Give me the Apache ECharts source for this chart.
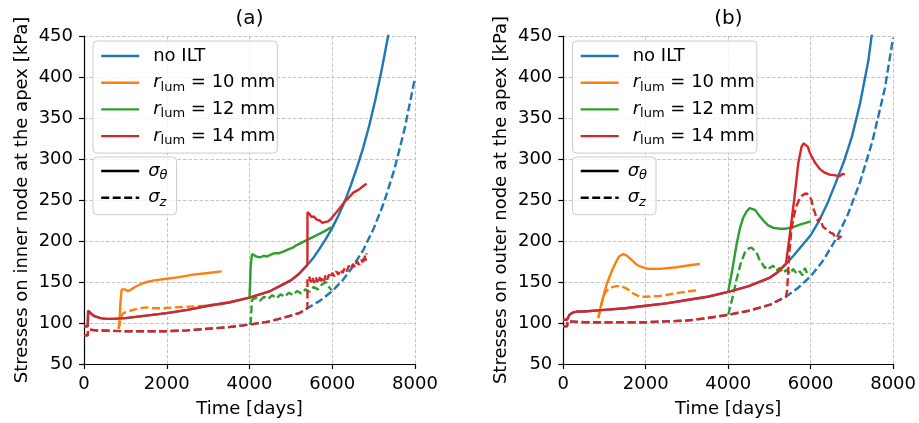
<!DOCTYPE html>
<html>
<head>
<meta charset="utf-8">
<script src="https://cdn.jsdelivr.net/npm/echarts@6/dist/echarts.min.js"></script>
<style>
  html, body { margin: 0; padding: 0; background: #fff; }
  #chart { width: 919px; height: 423px; }
</style>
</head>
<body>
<div id="chart"></div>
<script>
// ---------------- DATA (time in days, stress in kPa) ----------------
const X_TICKS = [0, 2000, 4000, 6000, 8000];
const Y_TICKS = [50, 100, 150, 200, 250, 300, 350, 400, 450];
const PANEL_TITLES = ['(a)', '(b)'];
const Y_NAMES = ['Stresses on inner node at the apex [kPa]', 'Stresses on outer node at the apex [kPa]'];
const X_NAME = 'Time [days]';

// Panel (a): inner node
const A_BASE_THETA_T = [0, 90, 100, 130, 180, 266, 400, 532, 700, 1000, 1500, 2000, 2500, 3000, 3500, 4000, 4500, 5000, 5200, 5400];
const A_BASE_THETA_V = [96, 96, 115, 114, 111, 108, 106, 105, 105, 106, 109, 112, 116, 121, 125, 131, 139, 152, 160, 171];
const A_NOILT_THETA_T = [5550, 5700, 5850, 6000, 6150, 6300, 6450, 6600, 6750, 6900, 7050, 7200, 7350, 7400];
const A_NOILT_THETA_V = [180, 191, 203, 216, 231, 248, 268, 290, 314, 342, 374, 410, 450, 464];
const A_BASE_Z_T = [0, 90, 100, 300, 1000, 2000, 2500, 3000, 3500, 4000, 4500, 5000, 5200, 5400];
const A_BASE_Z_V = [85, 85, 92, 91, 90, 90, 91, 93, 95, 98, 102, 109, 112, 118];
const A_NOILT_Z_T = [5700, 6000, 6250, 6500, 6750, 7000, 7250, 7500, 7750, 8000];
const A_NOILT_Z_V = [127, 139, 152, 169, 189, 215, 247, 287, 337, 399];
const A_R10_THETA_T = [830, 853, 880, 911, 950, 990, 1050, 1112, 1200, 1314, 1400, 1515, 1700, 1999, 2300, 2642, 3000, 3327];
const A_R10_THETA_V = [93, 96, 125, 141, 142, 141, 139, 140, 143, 146, 148, 150, 152, 154, 156, 159, 161, 163];
const A_R10_Z_T = [830, 853, 900, 950, 1050, 1192, 1350, 1515, 1700, 1918, 2200, 2562, 2900, 3287, 3327];
const A_R10_Z_V = [93, 95, 108, 112, 114, 116, 118, 119, 118, 118, 119, 120, 121, 123, 122];
const A_R12_THETA_T = [4000, 4029, 4060, 4100, 4174, 4250, 4350, 4420, 4496, 4600, 4700, 4818, 4950, 5050, 5141, 5300, 5420, 5543, 5700, 5850, 5987];
const A_R12_THETA_V = [131, 170, 184, 184, 181, 180, 182, 181, 183, 185, 185, 187, 190, 192, 195, 199, 202, 205, 209, 213, 217];
const A_R12_Z_T = [4000, 4029, 4060, 4150, 4250, 4350, 4450, 4550, 4650, 4750, 4850, 4950, 5050, 5150, 5250, 5350, 5450, 5550, 5650, 5750, 5850, 5920, 5990];
const A_R12_Z_V = [98, 101, 128, 131, 127, 132, 129, 134, 130, 135, 132, 137, 134, 139, 136, 141, 138, 144, 141, 147, 150, 144, 140];
const A_R14_THETA_T = [5401, 5450, 5500, 5550, 5625, 5700, 5760, 5825, 5900, 5970, 6050, 6150, 6300, 6400, 6510, 6650, 6750, 6830];
const A_R14_THETA_V = [235, 233, 229, 230, 226, 225, 222, 223, 224, 227, 232, 238, 248, 253, 259, 263, 267, 270];
const A_R14_Z_T = [5401, 5440, 5480, 5520, 5560, 5600, 5640, 5680, 5720, 5760, 5800, 5840, 5880, 5920, 5960, 6000, 6050, 6100, 6150, 6200, 6250, 6300, 6350, 6400, 6450, 6500, 6550, 6600, 6650, 6700, 6740, 6780, 6800, 6830];
const A_R14_Z_V = [152, 157, 150, 156, 149, 156, 150, 157, 151, 156, 151, 158, 153, 159, 155, 161, 157, 163, 159, 165, 161, 167, 163, 170, 166, 172, 168, 175, 171, 177, 174, 183, 176, 185];

// Panel (b): outer node
const B_BASE_THETA_T = [0, 90, 100, 150, 242, 350, 500, 1000, 1500, 2000, 2500, 3000, 3500, 4000, 4500, 5000, 5200, 5400];
const B_BASE_THETA_V = [104, 104, 106, 110, 113, 114, 114, 116, 118, 121, 124, 128, 132, 138, 145, 155, 162, 172];
const B_NOILT_THETA_T = [5600, 5800, 6000, 6200, 6400, 6600, 6800, 7000, 7200, 7400, 7500];
const B_NOILT_THETA_V = [183, 195, 207, 224, 245, 270, 296, 327, 368, 420, 458];
const B_BASE_Z_T = [0, 95, 100, 500, 1000, 2000, 2500, 3000, 3500, 4000, 4500, 5000, 5200, 5400];
const B_BASE_Z_V = [96, 96, 102, 101, 101, 101, 102, 103, 106, 110, 115, 122, 127, 132];
const B_NOILT_Z_T = [5700, 6000, 6300, 6600, 6900, 7200, 7500, 7800, 8000];
const B_NOILT_Z_V = [143, 157, 176, 201, 232, 272, 322, 386, 448];
const B_R10_THETA_T = [848, 900, 1000, 1051, 1150, 1253, 1350, 1455, 1550, 1657, 1760, 1859, 2061, 2343, 2747, 3152, 3313];
const B_R10_THETA_V = [106, 118, 138, 147, 160, 172, 181, 184, 182, 177, 172, 169, 166, 166, 168, 171, 172];
const B_R10_Z_T = [848, 900, 960, 1010, 1131, 1293, 1400, 1535, 1697, 1859, 2000, 2343, 2600, 2828, 3100, 3300];
const B_R10_Z_V = [106, 118, 130, 137, 143, 145, 145, 142, 136, 132, 132, 133, 135, 137, 139, 140];
const B_R12_THETA_T = [4000, 4100, 4200, 4283, 4360, 4444, 4520, 4566, 4650, 4768, 4870, 4970, 5100, 5253, 5400, 5576, 5737, 5880, 6000];
const B_R12_THETA_V = [138, 165, 195, 215, 228, 236, 240, 241, 238, 230, 224, 219, 216, 215, 215, 217, 220, 222, 224];
const B_R12_Z_T = [4000, 4100, 4202, 4300, 4404, 4500, 4566, 4630, 4687, 4768, 4830, 4889, 4950, 5010, 5090, 5172, 5250, 5333, 5420, 5500, 5576, 5660, 5737, 5800, 5859, 5920, 5980];
const B_R12_Z_V = [110, 130, 153, 172, 186, 191, 192, 189, 186, 176, 172, 167, 170, 167, 170, 164, 167, 161, 165, 160, 166, 160, 163, 158, 167, 160, 162];
const B_R14_THETA_T = [5500, 5600, 5700, 5780, 5830, 5870, 5930, 5976, 6100, 6218, 6350, 6461, 6600, 6700, 6788, 6830];
const B_R14_THETA_V = [210, 250, 295, 315, 319, 320, 315, 308, 296, 288, 283, 281, 280, 279, 282, 281];
const B_R14_Z_T = [5430, 5480, 5537, 5600, 5658, 5720, 5779, 5840, 5900, 5960, 6020, 6060, 6101, 6140, 6182, 6220, 6250, 6303, 6350, 6424, 6480, 6545, 6590, 6626, 6670, 6707, 6750];
const B_R14_Z_V = [140, 185, 215, 232, 243, 250, 255, 257, 258, 256, 250, 240, 235, 228, 224, 228, 224, 217, 216, 213, 210, 209, 205, 205, 202, 206, 204];

const CASE_NAMES = ['no ILT', 'r10', 'r12', 'r14'];
const STRESS_NAMES = ['theta', 'z'];
// ---------------------------------------------------------------------

const FONT = 'DejaVu Sans';
const COLORS = { 'no ILT': '#1f77b4', r10: '#ff7f0e', r12: '#2ca02c', r14: '#d62728', theta: '#000000', z: '#000000' };
const DASH = [8, 3.5];
const LW = 2.4;

function zip(t, v) { return t.map((x, i) => [x, v[i]]); }

function line(name, idx, data, dashed, z) {
  return {
    type: 'line', name: name, xAxisIndex: idx, yAxisIndex: idx,
    data: data, symbol: 'none', smooth: false, clip: true, z: z,
    lineStyle: { color: COLORS[name], width: LW, type: dashed ? DASH : 'solid' },
    itemStyle: { color: COLORS[name] },
    emphasis: { disabled: true }, animation: false
  };
}

function panelSeries(idx, P) {
  const s = [];
  s.push(line('no ILT', idx, zip(P.baseThT.concat(P.noThT), P.baseThV.concat(P.noThV)), false, 2));
  s.push(line('no ILT', idx, zip(P.baseZT.concat(P.noZT), P.baseZV.concat(P.noZV)), true, 2));
  s.push(line('r10', idx, zip(P.r10ThT, P.r10ThV), false, 3));
  s.push(line('r10', idx, zip(P.r10ZT, P.r10ZV), true, 3));
  s.push(line('r12', idx, zip(P.r12ThT, P.r12ThV), false, 4));
  s.push(line('r12', idx, zip(P.r12ZT, P.r12ZV), true, 4));
  s.push(line('r14', idx, zip(P.baseThT.concat(P.r14ThT), P.baseThV.concat(P.r14ThV)), false, 5));
  s.push(line('r14', idx, zip(P.baseZT.concat(P.r14ZT), P.baseZV.concat(P.r14ZV)), true, 5));
  return s;
}

const PA = {
  baseThT: A_BASE_THETA_T, baseThV: A_BASE_THETA_V, noThT: A_NOILT_THETA_T, noThV: A_NOILT_THETA_V,
  baseZT: A_BASE_Z_T, baseZV: A_BASE_Z_V, noZT: A_NOILT_Z_T, noZV: A_NOILT_Z_V,
  r10ThT: A_R10_THETA_T, r10ThV: A_R10_THETA_V, r10ZT: A_R10_Z_T, r10ZV: A_R10_Z_V,
  r12ThT: A_R12_THETA_T, r12ThV: A_R12_THETA_V, r12ZT: A_R12_Z_T, r12ZV: A_R12_Z_V,
  r14ThT: A_R14_THETA_T, r14ThV: A_R14_THETA_V, r14ZT: A_R14_Z_T, r14ZV: A_R14_Z_V
};
const PB = {
  baseThT: B_BASE_THETA_T, baseThV: B_BASE_THETA_V, noThT: B_NOILT_THETA_T, noThV: B_NOILT_THETA_V,
  baseZT: B_BASE_Z_T, baseZV: B_BASE_Z_V, noZT: B_NOILT_Z_T, noZV: B_NOILT_Z_V,
  r10ThT: B_R10_THETA_T, r10ThV: B_R10_THETA_V, r10ZT: B_R10_Z_T, r10ZV: B_R10_Z_V,
  r12ThT: B_R12_THETA_T, r12ThV: B_R12_THETA_V, r12ZT: B_R12_Z_T, r12ZV: B_R12_Z_V,
  r14ThT: B_R14_THETA_T, r14ThV: B_R14_THETA_V, r14ZT: B_R14_Z_T, r14ZV: B_R14_Z_V
};

let series = [];
// legend-only black style series first so legend icons use them
series.push(line('theta', 0, [], false, 1));
series.push(line('z', 0, [], true, 1));
series = series.concat(panelSeries(0, PA), panelSeries(1, PB));

const LABELS = {
  'no ILT': '{t|no ILT}',
  r10: '{i|r}{s|lum}{t| = 10 mm}',
  r12: '{i|r}{s|lum}{t| = 12 mm}',
  r14: '{i|r}{s|lum}{t| = 14 mm}',
  theta: '{i|σ}{si|θ}',
  z: '{i|σ}{si|z}'
};
const RICH = {
  t: { fontFamily: FONT, fontSize: 18, lineHeight: 22, color: '#000' },
  i: { fontFamily: FONT, fontSize: 18, fontStyle: 'italic', lineHeight: 22, color: '#000' },
  s: { fontFamily: FONT, fontSize: 13, lineHeight: 22, verticalAlign: 'bottom', color: '#000' },
  si: { fontFamily: FONT, fontSize: 13, fontStyle: 'italic', lineHeight: 22, verticalAlign: 'bottom', color: '#000' }
};

function legend(left, top, data, textPadLeft, pad) {
  return {
    show: true, orient: 'vertical', left: left, top: top,
    data: data, selectedMode: false,
    itemWidth: 38, itemHeight: 14, itemGap: 4.7,
    padding: pad,
    borderColor: '#cccccc', borderWidth: 1, borderRadius: 4,
    backgroundColor: 'rgba(255,255,255,0.8)',
    itemStyle: { color: 'rgba(0,0,0,0)', borderWidth: 0, opacity: 0 },
    lineStyle: { width: LW },
    formatter: (n) => LABELS[n],
    textStyle: { fontFamily: FONT, fontSize: 18, lineHeight: 22, color: '#000', padding: [0, 0, 0, textPadLeft], rich: RICH }
  };
}

const GRID_LEFTS = [84, 563.3];
const GRID_W = [331, 330];

function xAxis(idx) {
  return {
    type: 'value', gridIndex: idx, min: X_TICKS[0], max: X_TICKS[X_TICKS.length - 1],
    interval: X_TICKS[1] - X_TICKS[0],
    name: X_NAME, nameLocation: 'middle', nameGap: 36,
    nameTextStyle: { fontFamily: FONT, fontSize: 18, color: '#000' },
    axisLine: { show: true, onZero: false, lineStyle: { color: '#000', width: 1.2 } },
    axisTick: { show: true, inside: false, length: 5, lineStyle: { color: '#000', width: 1.2 } },
    axisLabel: { fontFamily: FONT, fontSize: 18, color: '#000', margin: 11, formatter: (v) => String(v) },
    splitLine: { show: true, lineStyle: { color: '#c4c4c4', width: 1, type: [3.5, 2] } }
  };
}
function yAxis(idx) {
  return {
    type: 'value', gridIndex: idx, min: Y_TICKS[0], max: Y_TICKS[Y_TICKS.length - 1],
    interval: Y_TICKS[1] - Y_TICKS[0],
    name: Y_NAMES[idx], nameLocation: 'middle', nameGap: 53,
    nameTextStyle: { fontFamily: FONT, fontSize: 18, color: '#000' },
    axisLine: { show: true, onZero: false, lineStyle: { color: '#000', width: 1.2 } },
    axisTick: { show: true, inside: false, length: 5, lineStyle: { color: '#000', width: 1.2 } },
    axisLabel: { fontFamily: FONT, fontSize: 18, color: '#000', margin: 11, formatter: (v) => String(v) },
    splitLine: { show: true, lineStyle: { color: '#c4c4c4', width: 1, type: [3.5, 2] } }
  };
}

const option = {
  backgroundColor: '#fff',
  animation: false,
  grid: [
    { left: GRID_LEFTS[0], top: 36, width: GRID_W[0], height: 330, containLabel: false },
    { left: GRID_LEFTS[1], top: 36, width: GRID_W[1], height: 330, containLabel: false }
  ],
  xAxis: [xAxis(0), xAxis(1)],
  yAxis: [yAxis(0), yAxis(1)],
  legend: [
    legend(93, 41, CASE_NAMES, 9, [4, 2, 6, 7]),
    legend(93, 157, STRESS_NAMES, 4, [3, 9, 6, 7]),
    legend(572.5, 41, CASE_NAMES, 9, [4, 2, 6, 7]),
    legend(572.5, 157, STRESS_NAMES, 4, [3, 9, 6, 7])
  ],
  graphic: PANEL_TITLES.map((t, i) => ({
    type: 'text', x: GRID_LEFTS[i] + GRID_W[i] / 2, y: 19,
    style: { text: t, fontFamily: FONT, fontSize: 20, fill: '#000', align: 'center', verticalAlign: 'middle' }
  })),
  series: series
};

const chart = echarts.init(document.getElementById('chart'), null, { renderer: 'canvas' });
chart.setOption(option);
</script>
</body>
</html>
